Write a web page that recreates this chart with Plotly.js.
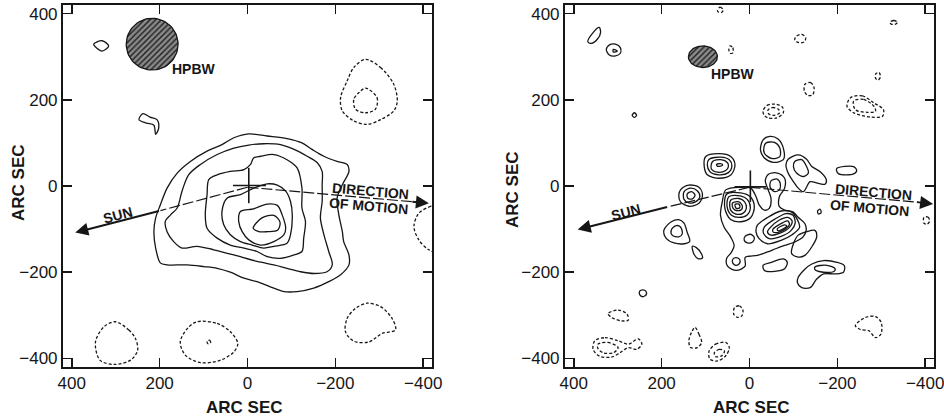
<!DOCTYPE html>
<html><head><meta charset="utf-8">
<script src="https://cdn.plot.ly/plotly-3.0.1.min.js"></script>
<style>html,body{margin:0;padding:0;background:#fff}</style>
</head><body><div id="chart" style="width:944px;height:419px"></div>
<script>
// ---------- axis ticks ----------
const tickValues = [400, 200, 0, -200, -400];
const axisTitle = "ARC SEC";

// ---------- LEFT PANEL contours (arc sec) ----------
const leftC1 = [[-3,121],[-45,116],[-90,110],[-124,100],[-147,85],[-174,69],[-204,57],[-227,50],[-231,34],[-216,3],[-204,-28],[-208,-67],[-216,-106],[-219,-129],[-231,-160],[-231,-183],[-212,-206],[-185,-222],[-151,-237],[-113,-245],[-83,-245],[-52,-234],[-22,-222],[8,-214],[39,-200],[69,-191],[99,-187],[137,-183],[183,-183],[198,-179],[209,-144],[213,-106],[209,-74],[198,-43],[183,-5],[160,30],[130,57],[92,81],[58,96],[31,112]];
const leftC2 = [[-3,95],[-37,98],[-75,96],[-106,85],[-136,69],[-159,54],[-170,34],[-170,3],[-170,-36],[-166,-74],[-174,-113],[-185,-152],[-193,-183],[-181,-199],[-151,-203],[-121,-199],[-90,-191],[-60,-183],[-22,-175],[31,-160],[77,-148],[115,-140],[149,-144],[168,-129],[183,-106],[187,-82],[175,-67],[160,-51],[149,-12],[134,26],[107,50],[69,73],[31,88]];
const leftC3 = [[-30,69],[-60,73],[-90,61],[-113,42],[-124,-5],[-124,-51],[-132,-82],[-128,-121],[-124,-152],[-106,-160],[-75,-168],[-45,-164],[-22,-152],[8,-144],[39,-137],[69,-121],[92,-98],[96,-67],[92,-20],[88,15],[69,26],[39,34],[8,38],[-7,50],[-14,65]];
const leftC4 = [[46,-28],[16,-20],[-14,-5],[-45,5],[-68,2],[-87,-12],[-98,-36],[-102,-67],[-98,-113],[-90,-133],[-60,-140],[-37,-144],[-11,-137],[16,-129],[39,-113],[54,-90],[58,-59]];
const leftC5 = [[16,-59],[-14,-53],[-45,-42],[-68,-45],[-79,-67],[-87,-98],[-83,-113],[-60,-129],[-30,-137],[-3,-125],[12,-106],[20,-82]];
const leftC6 = [[-13,-98],[-33,-74],[-60,-68],[-74,-84],[-69,-102],[-45,-106],[-26,-106]];
const leftS1 = [[350,329],[331,337],[316,325],[331,313]];
const leftS2 = [[247,154],[238,168],[222,160],[206,154],[202,135],[209,120],[213,141],[230,146]];
// negative (dashed) contours
const leftN1 = [[-269,294],[-303,275],[-333,236],[-341,197],[-333,174],[-303,154],[-272,143],[-242,151],[-216,174],[-212,205],[-227,244],[-242,275]];
const leftN2 = [[-269,227],[-295,205],[-291,178],[-269,170],[-246,178],[-242,201],[-254,217]];
const leftN3 = [[-440,-40],[-417,-47],[-390,-63],[-379,-94],[-390,-125],[-413,-148],[-440,-155]];
const leftN4 = [[301,-315],[270,-334],[255,-354],[250,-381],[266,-404],[304,-414],[336,-404],[346,-362],[327,-327]];
const leftN5 = [[115,-315],[69,-319],[39,-338],[22,-365],[31,-385],[61,-404],[107,-410],[141,-393],[153,-362],[137,-331]];
const leftN6 = [[92,-360],[86,-358],[84,-364],[90,-366]];
const leftN7 = [[-272,-272],[-303,-280],[-329,-307],[-337,-334],[-307,-342],[-276,-362],[-242,-360],[-223,-338],[-227,-307],[-246,-284]];
const leftCross = [[33,1],[-42,1],null,[-3,42],[-3,-40]];
const leftSunDash = [[0,-3],[198,-57]];
const leftSunArrow = [[198,-57],[392,-108]];
const leftMotionDash = [[0,-3],[-380,-37]];
const leftMotionArrow = [[-372,-36],[-413,-40]];
const leftBeam = {x:217, y:329, rx:59, ry:60};

// ---------- RIGHT PANEL contours ----------
const rightA1 = [[-31,107],[-46,115],[-65,109],[-78,84],[-77,61],[-54,55],[-34,65],[-25,84]];
const rightA2 = [[-38,100],[-57,101],[-69,88],[-69,68],[-50,64],[-34,76],[-33,91]];
const rightB1 = [[100,68],[69,75],[42,68],[33,49],[42,26],[69,18],[96,26],[103,45]];
const rightB2 = [[92,62],[65,67],[46,61],[40,47],[48,31],[69,26],[90,33],[96,49]];
const rightB3 = [[84,57],[65,61],[50,54],[48,45],[54,36],[73,32],[87,40]];
const rightB4 = [[75,50],[66,52],[61,49],[66,46],[73,46]];
const rightC1 = [[157,-9],[138,2],[115,-3],[107,-21],[115,-40],[138,-47],[157,-37],[161,-21]];
const rightC2 = [[149,-13],[134,-5],[119,-11],[113,-25],[123,-37],[138,-39],[149,-31]];
const rightC3 = [[142,-19],[132,-13],[124,-21],[130,-30],[140,-29]];
const rightD1 = [[195,-103],[178,-83],[161,-78],[149,-86],[142,-107],[136,-128],[149,-134],[172,-132],[189,-122]];
const rightD2 = [[178,-102],[167,-92],[157,-95],[153,-111],[161,-118],[176,-114]];
const rightD3 = [[130,-140],[121,-143],[109,-158],[107,-167],[116,-169],[126,-159]];
const rightE1 = [[54,-9],[20,-3],[-3,-5],[-15,-25],[-22,-44],[-34,-56],[-45,-52],[-49,-29],[-41,-5],[-36,12],[-44,28],[-64,30],[-80,18],[-80,-5],[-68,-25],[-68,-48],[-80,-56],[-99,-60],[-110,-72],[-126,-87],[-129,-103],[-122,-118],[-103,-130],[-80,-138],[-61,-145],[-41,-153],[-18,-161],[1,-163],[10,-166],[10,-186],[30,-196],[50,-186],[52,-168],[42,-155],[35,-138],[43,-118],[58,-95],[66,-68],[62,-37]];
const rightEring = [[-49,12],[-63,16],[-70,6],[-68,-9],[-57,-13],[-47,-3]];
const rightL1 = [[52,-19],[20,-16],[-2,-25],[-11,-48],[-3,-73],[20,-83],[43,-78],[56,-52]];
const rightL2 = [[47,-25],[21,-23],[5,-31],[-2,-50],[6,-68],[24,-73],[41,-68],[51,-48]];
const rightL3 = [[43,-33],[24,-29],[11,-37],[7,-52],[16,-64],[31,-65],[43,-56]];
const rightL4 = [[38,-39],[24,-37],[16,-47],[20,-56],[33,-56],[39,-48]];
const rightL5 = [[33,-43],[24,-42],[22,-50],[30,-52]];
const rightR1 = [[-18,-91],[-41,-73],[-72,-58],[-95,-60],[-109,-78],[-114,-96],[-97,-113],[-72,-126],[-41,-134],[-22,-122],[-15,-107]];
const rightR2 = [[-34,-95],[-61,-75],[-83,-64],[-99,-68],[-104,-86],[-95,-103],[-72,-117],[-45,-122],[-32,-110]];
const rightR3 = [[-45,-99],[-68,-79],[-87,-73],[-97,-81],[-91,-96],[-68,-110],[-49,-114],[-41,-107]];
const rightR4 = [[-53,-101],[-76,-85],[-87,-81],[-91,-89],[-81,-100],[-63,-108],[-54,-107]];
const rightR5 = [[-63,-100],[-80,-90],[-85,-93],[-76,-100],[-66,-104]];
const rightM1 = [[10,-117],[-2,-112],[-11,-120],[-7,-130],[5,-132],[12,-126]];
const rightLobe = [[38,-170],[30,-166],[22,-171],[23,-180],[31,-184],[38,-179]];
const rightF1 = [[-88,62],[-111,72],[-130,62],[-142,45],[-161,33],[-175,14],[-172,4],[-157,6],[-138,10],[-123,-13],[-111,-5],[-100,10],[-88,30],[-83,49]];
const rightF2 = [[-103,57],[-119,61],[-130,45],[-134,30],[-123,22],[-107,30],[-100,45]];
const rightG = [[-100,-134],[-111,-114],[-130,-106],[-149,-103],[-153,-118],[-142,-141],[-126,-161],[-111,-165],[-96,-157]];
const rightH = [[-31,-184],[-50,-177],[-77,-169],[-86,-177],[-80,-192],[-57,-198],[-34,-196]];
const rightI1 = [[-111,-212],[-126,-193],[-142,-181],[-169,-173],[-199,-177],[-216,-185],[-214,-200],[-195,-204],[-169,-204],[-153,-216],[-138,-236],[-119,-236],[-109,-224]];
const rightI2 = [[-149,-188],[-176,-184],[-195,-192],[-191,-199],[-161,-199],[-149,-194]];
const rightJ = [[-199,41],[-237,45],[-244,36],[-237,28],[-203,28],[-198,36]];
const rightK = [[243,-241],[236,-244],[235,-252],[243,-257],[250,-252],[250,-244]];
const rightP1 = [[368,335],[356,356],[342,368],[339,356],[346,341],[360,331]];
const rightP2 = [[326,317],[318,328],[305,329],[294,321],[294,308],[305,302],[319,304]];
const rightP3 = [[310,317],[301,313],[310,311]];
const rightP4 = [[267,164],[262,170],[257,164],[262,159]];
const rightP5 = [[-155,-58],[-161,-54],[-163,-62],[-157,-65]];
// negative (dashed)
const rightN1 = [[73,407],[67,415],[60,409],[63,403],[70,403]];
const rightN2 = [[44,325],[38,321],[38,309],[44,308],[47,317]];
const rightN3 = [[-106,347],[-119,352],[-128,344],[-124,334],[-111,333],[-103,339]];
const rightN4 = [[-320,380],[-328,384],[-337,380],[-331,375],[-322,376]];
const rightN5 = [[-288,261],[-295,263],[-298,253],[-293,246],[-287,250]];
const rightN6 = [[-126,236],[-139,240],[-147,228],[-144,212],[-133,210],[-125,220]];
const rightN7 = [[-31,175],[-40,187],[-58,190],[-75,183],[-77,170],[-62,158],[-42,158],[-33,165]];
const rightN8 = [[-42,176],[-52,182],[-66,178],[-68,169],[-56,164],[-44,167]];
const rightN9 = [[-230,205],[-257,209],[-283,193],[-305,177],[-303,162],[-276,160],[-237,170],[-222,185]];
const rightN10 = [[-237,197],[-260,201],[-283,185],[-287,173],[-268,171],[-241,177]];
const rightN11 = [[322,-296],[299,-288],[279,-297],[276,-311],[291,-313],[314,-305]];
const rightN12 = [[352,-359],[329,-352],[299,-359],[276,-367],[253,-355],[245,-367],[257,-379],[276,-375],[295,-387],[314,-397],[341,-395],[356,-379]];
const rightN13 = [[345,-367],[322,-363],[299,-375],[310,-387],[333,-387],[345,-377]];
const rightN14 = [[124,-328],[115,-344],[109,-363],[119,-375],[134,-375],[138,-359],[132,-340]];
const rightN15 = [[92,-383],[77,-367],[54,-363],[46,-375],[54,-394],[73,-406],[90,-402]];
const rightN16 = [[80,-387],[69,-379],[57,-383],[63,-394],[77,-396]];
const rightN17 = [[-241,-324],[-264,-305],[-287,-303],[-300,-317],[-299,-344],[-287,-352],[-272,-336],[-253,-333]];
const rightN18 = [[34,-282],[23,-278],[15,-288],[17,-301],[27,-305],[36,-297]];
const rightN19 = [[-397,-73],[-406,-72],[-410,-81],[-404,-89],[-397,-86]];
const rightCross = [[34,-2],[-38,-2],null,[-2,36],[-2,-37]];
const rightSunDash = [[0,-3],[184,-48]];
const rightSunArrow = [[184,-48],[391,-101]];
const rightMotionDash = [[0,-3],[-385,-38]];
const rightMotionArrow = [[-378,-37],[-418,-42]];
const rightBeam = {x:106, y:300, rx:33, ry:25};

// ---------- builders ----------
function joinContours(list){
  const x=[], y=[];
  list.forEach(c=>{ c.concat([c[0]]).forEach(p=>{x.push(p[0]);y.push(p[1]);}); x.push(null); y.push(null); });
  return {x,y};
}
function path(pts){ return {x:pts.map(p=>p?p[0]:null), y:pts.map(p=>p?p[1]:null)}; }
function beam(b){ const x=[],y=[]; for(let i=0;i<=72;i++){const t=i/72*2*Math.PI; x.push(b.x+b.rx*Math.cos(t)); y.push(b.y+b.ry*Math.sin(t));} return {x,y}; }

const INK = '#161616';
const FONT = '"Liberation Sans", Arial, Helvetica, sans-serif';
function contourTrace(list, dashed, xa, ya){
  const d = joinContours(list);
  return {type:'scatter', mode:'lines', x:d.x, y:d.y, xaxis:xa, yaxis:ya, connectgaps:false,
    line:{color:INK, width:1.3, dash: dashed ? '3px,2px' : 'solid', shape:'spline', smoothing:0.9},
    hoverinfo:'skip', showlegend:false};
}
function lineTrace(pts, xa, ya, width, dash){
  const d = path(pts);
  return {type:'scatter', mode:'lines', x:d.x, y:d.y, xaxis:xa, yaxis:ya, connectgaps:false,
    line:{color:INK, width:width, dash:dash||'solid'}, hoverinfo:'skip', showlegend:false};
}
function beamTrace(b, xa, ya){
  const d = beam(b);
  return {type:'scatter', mode:'lines', x:d.x, y:d.y, xaxis:xa, yaxis:ya, fill:'toself',
    fillcolor:'#6a6a6a', fillpattern:{shape:'/', bgcolor:'#8a8a8a', fgcolor:'#1e1e1e', size:4, solidity:0.35},
    line:{color:INK, width:1.3}, hoverinfo:'skip', showlegend:false};
}

const traces = [
  beamTrace(leftBeam,'x','y'),
  contourTrace([leftC1,leftC2,leftC3,leftC4,leftC5,leftC6,leftS1,leftS2], false,'x','y'),
  contourTrace([leftN1,leftN2,leftN3,leftN4,leftN5,leftN6,leftN7], true,'x','y'),
  lineTrace(leftCross,'x','y',1.6),
  lineTrace(leftSunDash,'x','y',1.2,'11px,3px'),
  lineTrace(leftMotionDash,'x','y',1.2,'11px,3px'),
  beamTrace(rightBeam,'x2','y2'),
  contourTrace([rightA1,rightA2,rightB1,rightB2,rightB3,rightB4,rightC1,rightC2,rightC3,rightD1,rightD2,rightD3,
    rightE1,rightEring,rightL1,rightL2,rightL3,rightL4,rightL5,rightR1,rightR2,rightR3,rightR4,rightR5,rightM1,rightLobe,
    rightF1,rightF2,rightG,rightH,rightI1,rightI2,rightJ,rightK,rightP1,rightP2,rightP3,rightP4,rightP5], false,'x2','y2'),
  contourTrace([rightN1,rightN2,rightN3,rightN4,rightN5,rightN6,rightN7,rightN8,rightN9,rightN10,rightN11,rightN12,
    rightN13,rightN14,rightN15,rightN16,rightN17,rightN18,rightN19], true,'x2','y2'),
  lineTrace(rightCross,'x2','y2',1.6),
  lineTrace(rightSunDash,'x2','y2',1.2,'11px,3px'),
  lineTrace(rightMotionDash,'x2','y2',1.2,'11px,3px')
];

function arrow(seg, xr, yr){
  return {x:seg[1][0], y:seg[1][1], ax:seg[0][0], ay:seg[0][1], xref:xr, yref:yr, axref:xr, ayref:yr,
    showarrow:true, arrowhead:2, arrowsize:1.3, arrowwidth:2, arrowcolor:INK, text:''};
}
function label(t, x, y, xr, yr, ang){
  return {text:'<b>'+t+'</b>', x:x, y:y, xref:xr, yref:yr, showarrow:false, textangle:ang||0,
    font:{family:FONT, size:14, color:INK}};
}
function paperText(t, px, py, ang){
  return {text:'<b>'+t+'</b>', x:px/944, y:1-py/419, xref:'paper', yref:'paper', showarrow:false,
    textangle:ang||0, xanchor:'center', yanchor:'middle', font:{family:FONT, size:17, color:INK}};
}

const annotations = [
  arrow(leftSunArrow,'x','y'), arrow(leftMotionArrow,'x','y'),
  arrow(rightSunArrow,'x2','y2'), arrow(rightMotionArrow,'x2','y2'),
  label('HPBW',122,271,'x','y'), label('SUN',294,-67,'x','y',-15),
  label('DIRECTION',-280,-12,'x','y',5), label('OF MOTION',-276,-47,'x','y',5),
  label('HPBW',38,259,'x2','y2'), label('SUN',280,-60,'x2','y2',-15),
  label('DIRECTION',-282,-15,'x2','y2',5), label('OF MOTION',-274,-50,'x2','y2',5),
  paperText(axisTitle,245,407), paperText(axisTitle,751,407),
  paperText(axisTitle,18,183,-90), paperText(axisTitle,512,190,-90)
];

function xAxis(domain, anchor){
  return {domain:domain, anchor:anchor, range:[420,-420], tickvals:tickValues, ticks:'inside', ticklen:9, tickwidth:1.5,
    tickcolor:INK, showline:true, linewidth:2, linecolor:INK, mirror:'ticks', showgrid:false, zeroline:false,
    ticklabeloverflow:'allow', tickfont:{family:FONT, size:17, color:INK}, fixedrange:true};
}
function yAxis(anchor){
  return {domain:[0.1241,0.9881], anchor:anchor, range:[-420,420], tickvals:tickValues, ticks:'inside', ticklen:9, tickwidth:1.5,
    tickcolor:INK, showline:true, linewidth:2, linecolor:INK, mirror:'ticks', showgrid:false, zeroline:false,
    ticklabeloverflow:'allow', tickfont:{family:FONT, size:17, color:INK}, fixedrange:true};
}

const layout = {
  width:944, height:419, margin:{l:0,r:0,t:0,b:0}, paper_bgcolor:'#fff', plot_bgcolor:'#fff',
  showlegend:false, font:{family:FONT, color:INK},
  xaxis:xAxis([0.0667,0.4576],'y'), yaxis:yAxis('x'),
  xaxis2:xAxis([0.5985,0.9894],'y2'), yaxis2:yAxis('x2'),
  annotations:annotations
};
Plotly.newPlot('chart', traces, layout, {staticPlot:true, displayModeBar:false});
</script></body></html>
